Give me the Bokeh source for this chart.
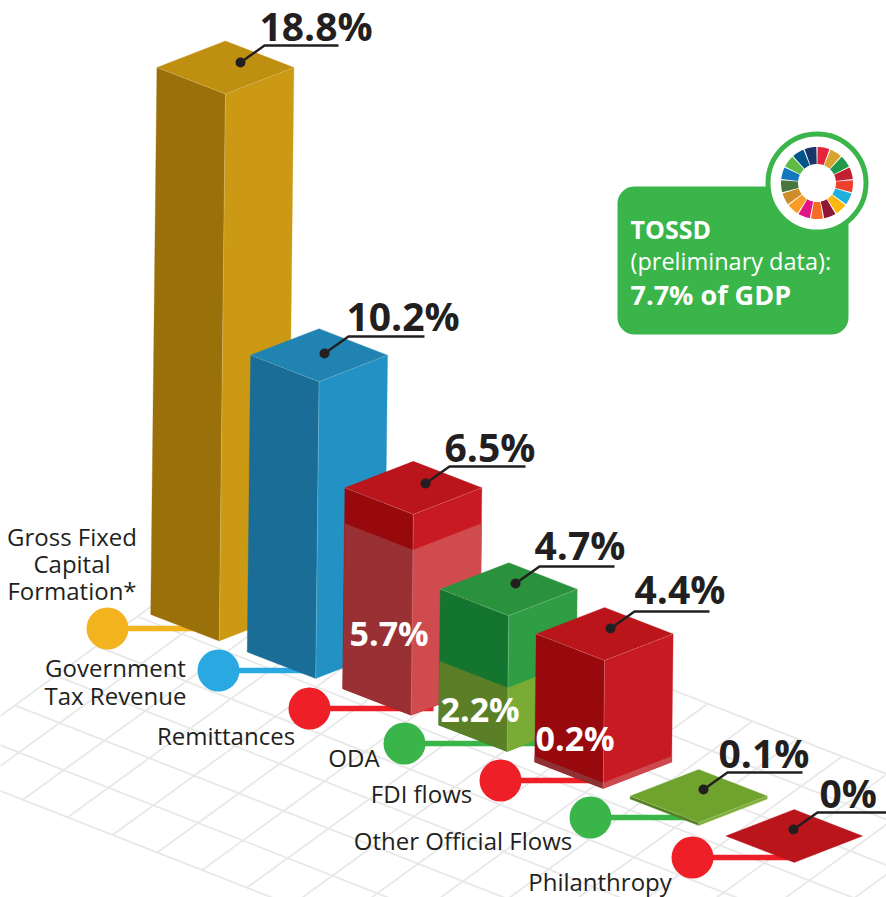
import math
from bokeh.plotting import figure
from bokeh.models import Range1d
from bokeh.core.properties import value
from bokeh.embed import file_html
from bokeh.resources import INLINE

# ---- data ----
bar_names = ["Gross Fixed Capital Formation*", "Government Tax Revenue", "Remittances", "ODA",
             "FDI flows", "Other Official Flows", "Philanthropy"]
bar_values = [18.8, 10.2, 6.5, 4.7, 4.4, 0.1, 0.0]
bar_labels = ["18.8%", "10.2%", "6.5%", "4.7%", "4.4%", "0.1%", "0%"]
lower_values = [0, 0, 5.7, 2.2, 0.2, 0, 0]
lower_labels = ["5.7%", "2.2%", "0.2%"]
tossd_lines = ["TOSSD", "(preliminary data):", "7.7% of GDP"]
sdg_colors = ["#e5243b", "#d8a32f", "#1f9a4b", "#c31f33", "#ef402b", "#1fb0de", "#fdb713", "#8f1838", "#f36d25",
              "#e01483", "#f99d26", "#cf8d2a", "#48773e", "#1277bd", "#5dbb46", "#02558b", "#183668"]

# ---- layout ----
base_x = [218.7, 315.2, 410.7, 506.7, 602.7, 698.2, 793.7]
base_y = [640.5, 678, 714.7, 751, 788, 825, 862]
scale_total = [29.1, 29.1, 30.9, 28.9, 29.1, 30, 29]
scale_lower = 29.0
lean = 0.33
HW, HD = 68.5, 26.5

top_col = ["#bf8f10", "#2083b2", "#bb151c", "#2a913d", "#bb151c", "#70a22e", "#bb151c"]
left_col = ["#9a700a", "#1a6d96", "#98090d", "#13752e", "#98090d", "#557f22", "#98090d"]
right_col = ["#cb9914", "#2292c4", "#c81a22", "#2f9d44", "#c81a22", "#7eb03a", "#c81a22"]
low_left = [None, None, "#993033", "#5a7f27", "#8f3033", None, None]
low_right = [None, None, "#cf4b4d", "#7aab34", "#cc4a4d", None, None]

dot_x = [240, 324, 425, 515, 610, 703, 793]
dot_y = [62, 353, 483, 583, 628, 789, 829]
elbow_dx, elbow_dy = 24, -17
rule_len = [74, 76, 76, 75, 75, 75, 75]
val_x = [259, 346, 444, 534, 634, 718, 819]
val_y = [25, 315, 446, 544, 588, 752, 792]

circle_x = [107, 218, 309, 404, 500, 590, 692]
circle_y = [628, 670, 708, 743, 780, 817, 857]
circle_col = ["#f3b31e", "#29a8e1", "#ee1f26", "#3ab54a", "#ee1f26", "#3ab54a", "#ee1f26"]
stem_end = [195, 310, 433, 535, 590, 690, 790]

names_x = [71.5, 71.5, 71.5, 115, 115, 225.5, 353.5, 421, 462.5, 599.5]
names_y = [536, 563, 590, 667, 695, 735, 757, 793, 840, 881]
names_txt = ["Gross Fixed", "Capital", "Formation*", "Government", "Tax Revenue", "Remittances", "ODA",
             "FDI flows", "Other Official Flows", "Philanthropy"]

TXT = "#231f20"
FONT = value("Open Sans")

p = figure(width=886, height=897, x_range=Range1d(0, 886), y_range=Range1d(897, 0),
           output_backend="svg", toolbar_location=None, min_border=0, title=None)
p.axis.visible = False
p.grid.visible = False
p.outline_line_color = None
p.background_fill_color = "white"

# ---- floor grid ----
O = (104, 740)
A = (44.8, 17.6)
B = (40.8, -29.6)
def lattice(i, j):
    return O[0] + i * A[0] + j * B[0], O[1] + i * A[1] + j * B[1]
gx, gy = [], []
for j in range(-2, 7):
    a, b = lattice(-2, j), lattice(17, j)
    gx.append([a[0], b[0]]); gy.append([a[1], b[1]])
for i in range(-2, 18):
    a, b = lattice(i, -2), lattice(i, 6)
    gx.append([a[0], b[0]]); gy.append([a[1], b[1]])
p.multi_line(gx, gy, line_color="#e8e8e8", line_width=1.8)

# ---- connectors and circles ----
p.segment(circle_x, circle_y, stem_end, circle_y, line_color=circle_col, line_width=5.5)
p.scatter(circle_x, circle_y, size=42, color=circle_col, line_color=None)

# ---- bars ----
def box(i, v, scale):
    """corners of the top plane at value v for bar i"""
    fx = base_x[i] + lean * v
    fy = base_y[i] - v * scale
    return dict(f=(fx, fy), l=(fx - HW, fy - HD), r=(fx + HW, fy - HD), b=(fx, fy - 2 * HD))

def quad(p1, p2, p3, p4, col):
    p.patch([p1[0], p2[0], p3[0], p4[0]], [p1[1], p2[1], p3[1], p4[1]], color=col, line_color=col, line_width=0.3)

for i, v in enumerate(bar_values):
    bot = box(i, 0, 1)
    top = box(i, v, scale_total[i])
    if v > 0:
        quad(bot["l"], bot["f"], top["f"], top["l"], left_col[i])
        quad(bot["f"], bot["r"], top["r"], top["f"], right_col[i])
        if lower_values[i]:
            mid = box(i, lower_values[i], scale_lower)
            quad(bot["l"], bot["f"], mid["f"], mid["l"], low_left[i])
            quad(bot["f"], bot["r"], mid["r"], mid["f"], low_right[i])
    quad(top["l"], top["f"], top["r"], top["b"], top_col[i])
    if v > 0:
        p.line([top["l"][0], top["f"][0], top["r"][0]], [top["l"][1], top["f"][1], top["r"][1]],
               line_color="white", line_alpha=0.35, line_width=0.8, line_dash="2 1")
        p.line([top["f"][0], bot["f"][0]], [top["f"][1], bot["f"][1]],
               line_color="white", line_alpha=0.25, line_width=0.8)

# ---- value leaders ----
for i in range(len(bar_values)):
    ex, ey = dot_x[i] + elbow_dx, dot_y[i] + elbow_dy
    p.line([dot_x[i], ex, ex + rule_len[i]], [dot_y[i], ey, ey], line_color=TXT, line_width=2.4)
p.scatter(dot_x, dot_y, size=10, color=TXT, line_color=None)

p.text(val_x, val_y, text=bar_labels, text_font=FONT, text_font_style="bold", text_font_size="39px",
       text_color=TXT, text_align="left", text_baseline="middle")

# ---- inner white labels ----
p.text([349, 440, 535], [632, 708, 737], text=lower_labels, text_font=FONT, text_font_style="bold",
       text_font_size="34px", text_color="white", text_align="left", text_baseline="middle")

# ---- category labels ----
p.text(names_x, names_y, text=names_txt, text_font=FONT, text_font_size="24px", text_color=TXT,
       text_align="center", text_baseline="middle")

# ---- TOSSD badge ----
def rounded(x0, y0, x1, y1, r, n=10):
    xs, ys = [], []
    for cx, cy, a0 in [(x1 - r, y0 + r, -90), (x1 - r, y1 - r, 0), (x0 + r, y1 - r, 90), (x0 + r, y0 + r, 180)]:
        for k in range(n + 1):
            t = math.radians(a0 + 90 * k / n)
            xs.append(cx + r * math.cos(t)); ys.append(cy + r * math.sin(t))
    return xs, ys
bx, by = rounded(617, 186, 848, 334, 17)
GREEN = "#3ab54a"
p.patch(bx, by, color=GREEN, line_color=None)
CX, CY = 816.5, 182.5
p.scatter([CX], [CY], size=98, color="white", line_color=GREEN, line_width=5)
R0, R1 = 19, 36
step = 360 / len(sdg_colors)
wx, wy = [], []
for k in range(len(sdg_colors)):
    a0, a1 = math.radians(k * step + 1), math.radians((k + 1) * step - 1)
    arc = [a0 + (a1 - a0) * m / 6 for m in range(7)]
    wx.append([CX + R1 * math.sin(t) for t in arc] + [CX + R0 * math.sin(t) for t in reversed(arc)])
    wy.append([CY - R1 * math.cos(t) for t in arc] + [CY - R0 * math.cos(t) for t in reversed(arc)])
p.patches(wx, wy, color=sdg_colors, line_color=None)
p.text([630], [228], text=[tossd_lines[0]], text_font=FONT, text_font_style="bold", text_font_size="25px",
       text_color="white", text_baseline="middle")
p.text([630], [260], text=[tossd_lines[1]], text_font=FONT, text_font_size="23.5px",
       text_color="white", text_baseline="middle")
p.text([630], [294], text=[tossd_lines[2]], text_font=FONT, text_font_style="bold", text_font_size="27px",
       text_color="white", text_baseline="middle")

open("out.html", "w").write(file_html(p, INLINE))
